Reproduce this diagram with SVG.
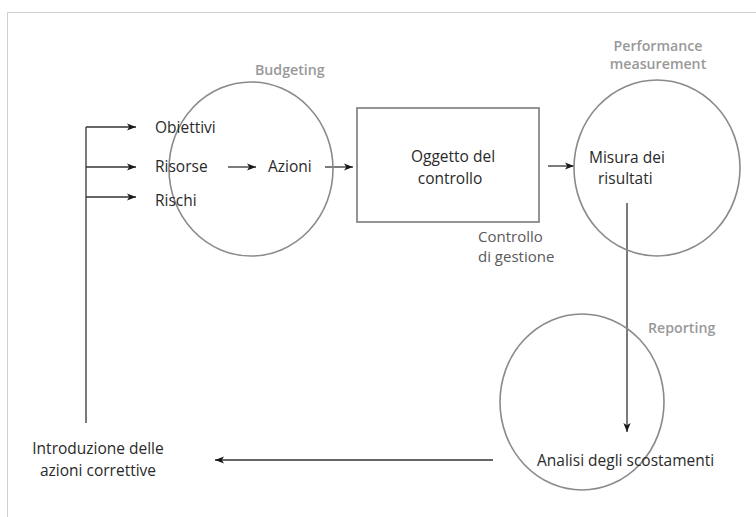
<svg xmlns="http://www.w3.org/2000/svg" width="756" height="517" viewBox="0 0 756 517">
  <defs>
    <marker id="arrow" viewBox="0 0 10 10" refX="10" refY="5" markerWidth="9" markerHeight="9" markerUnits="userSpaceOnUse" orient="auto">
      <path d="M0,1 L10,5 L0,9 L2.5,5 Z" fill="#1a1a1a"/>
    </marker>
  </defs>
  <style>
    .frame { fill: none; stroke: #cfcfcf; stroke-width: 1; }
    .phase { fill: none; stroke: #8a8a8a; stroke-width: 1.6; }
    .box { fill: #fff; stroke: #7a7a7a; stroke-width: 1.6; }
    .link { fill: none; stroke: #333; stroke-width: 1.3; }
    .arrow { marker-end: url(#arrow); }
    text { font-family: "Open Sans", "Noto Sans", sans-serif; font-size: 15.5px; }
    .item { fill: #2a2a2a; }
    .label { fill: #999; font-weight: 600; font-size: 14.2px; }
    .sub { fill: #5a5a5a; font-size: 15px; }
    .mid { text-anchor: middle; }
  </style>

  <rect width="756" height="517" fill="#fff"/>
  <path class="frame" d="M7.5,517 V12.5 H756"/>

  <!-- connectors -->
  <g id="connectors">
    <path class="link" d="M86,423 V127"/>
    <path class="link arrow" d="M86,127 H136"/>
    <path class="link arrow" d="M86,167 H136"/>
    <path class="link arrow" d="M86,197 H136"/>
    <path class="link arrow" d="M228,167 H256"/>
    <path class="link arrow" d="M325,167 H353"/>
    <path class="link arrow" d="M548,166 H574"/>
    <path class="link arrow" d="M627,203 V432"/>
    <path class="link arrow" d="M493,460 H215"/>
  </g>

  <!-- budgeting phase -->
  <g id="budgeting">
    <ellipse class="phase" cx="251" cy="169" rx="82" ry="87"/>
    <text class="label" x="255" y="75">Budgeting</text>
    <text class="item" x="155" y="133">Obiettivi</text>
    <text class="item" x="155" y="172">Risorse</text>
    <text class="item" x="155" y="206">Rischi</text>
    <text class="item" x="268" y="172">Azioni</text>
  </g>

  <!-- management control -->
  <g id="controllo">
    <rect class="box" x="357" y="108" width="182" height="114"/>
    <text class="item mid" x="453" y="162">Oggetto del</text>
    <text class="item mid" x="450" y="184">controllo</text>
    <text class="sub" x="478" y="242">Controllo</text>
    <text class="sub" x="478" y="262">di gestione</text>
  </g>

  <!-- performance measurement phase -->
  <g id="performance">
    <ellipse class="phase" cx="657" cy="168" rx="83" ry="88"/>
    <text class="label mid" x="658" y="51">Performance</text>
    <text class="label mid" x="658" y="69">measurement</text>
    <text class="item" x="589" y="163">Misura dei</text>
    <text class="item" x="598" y="184">risultati</text>
  </g>

  <!-- reporting phase -->
  <g id="reporting">
    <ellipse class="phase" cx="582" cy="402" rx="82" ry="88"/>
    <text class="label" x="648" y="333">Reporting</text>
    <text class="item" x="537" y="466">Analisi degli scostamenti</text>
  </g>

  <!-- corrective actions -->
  <g id="correzioni">
    <text class="item mid" x="98" y="454">Introduzione delle</text>
    <text class="item mid" x="98" y="476">azioni correttive</text>
  </g>
</svg>
